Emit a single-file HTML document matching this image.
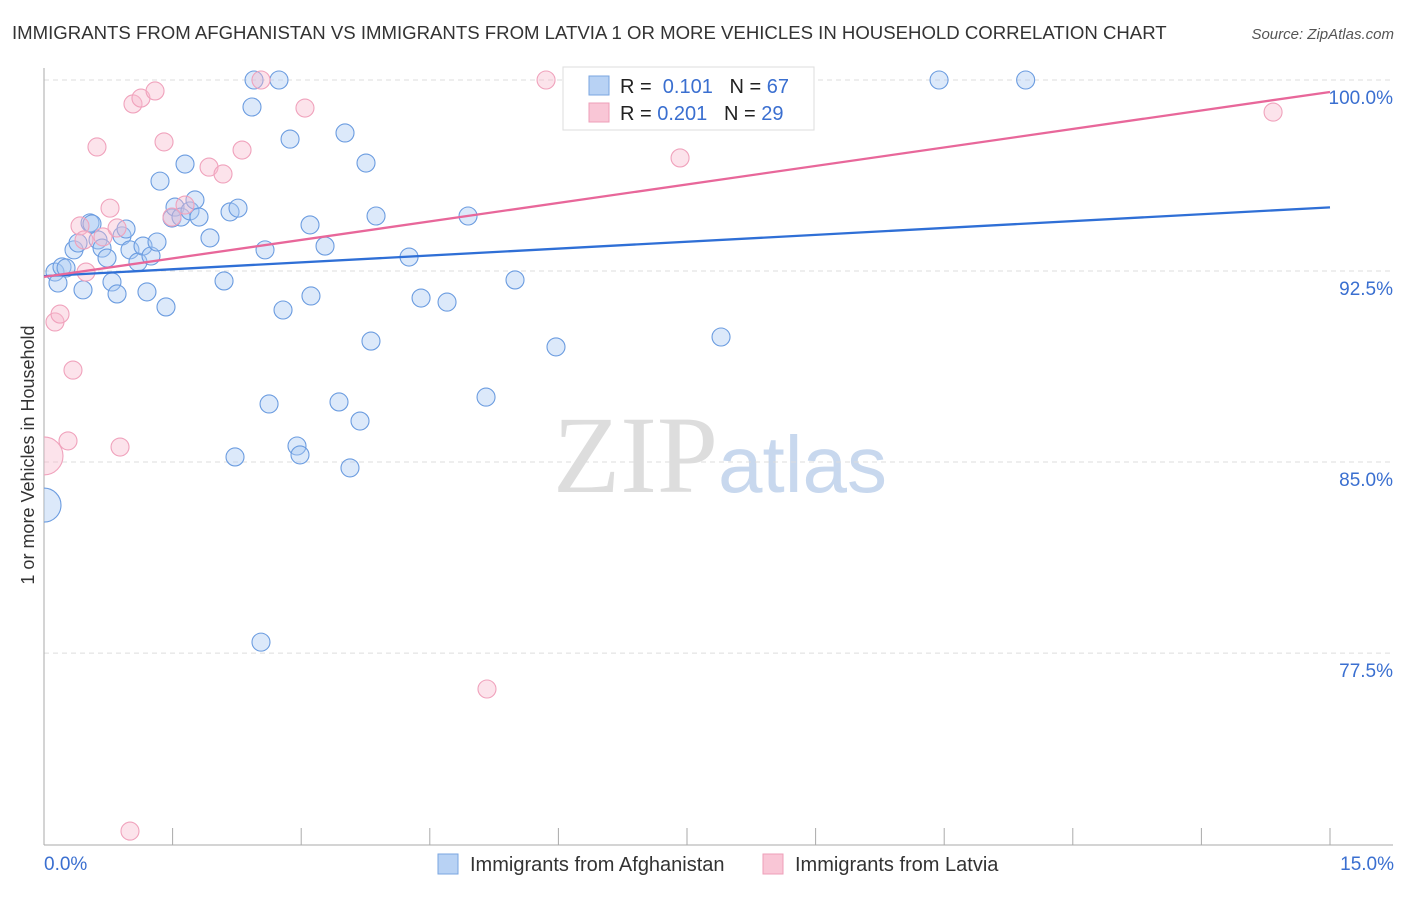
<!DOCTYPE html>
<html><head><meta charset="utf-8"><style>
body{margin:0;background:#fff;font-family:"Liberation Sans",sans-serif}
</style></head><body>
<svg id="chart" width="1406" height="892" xmlns="http://www.w3.org/2000/svg">
<defs><clipPath id="plotclip"><rect x="44" y="40" width="1360" height="805"/></clipPath></defs>
<text x="12" y="39" font-size="18.6" fill="#333">IMMIGRANTS FROM AFGHANISTAN VS IMMIGRANTS FROM LATVIA 1 OR MORE VEHICLES IN HOUSEHOLD CORRELATION CHART</text>
<text x="1394" y="39" font-size="15" fill="#555" font-style="italic" text-anchor="end">Source: ZipAtlas.com</text>
<text x="553" y="492" font-size="110" fill="#ddd" font-family="Liberation Serif,serif">ZIP</text>
<text x="718" y="492" font-size="80" fill="#c8d8ee">atlas</text>
<text transform="translate(34,455) rotate(-90)" font-size="18" fill="#333" text-anchor="middle">1 or more Vehicles in Household</text>
<g id="grid"></g><g id="axes"></g><g id="marks" clip-path="url(#plotclip)"></g><g id="lines"></g>
<g>
<rect x="563" y="67" width="251" height="63" fill="#fff" stroke="#ddd"/>
<rect x="589" y="76" width="20" height="19" fill="#b8d2f4" stroke="#7aa6e0"/>
<rect x="589" y="103" width="20" height="19" fill="#f9c6d6" stroke="#ee9fb8"/>
<text x="620" y="93" font-size="20" fill="#222">R = <tspan fill="#3a6fd0">&#160;0.101</tspan>&#160;&#160;&#160;N = <tspan fill="#3a6fd0">67</tspan></text>
<text x="620" y="120" font-size="20" fill="#222">R = <tspan fill="#3a6fd0">0.201</tspan>&#160;&#160;&#160;N = <tspan fill="#3a6fd0">29</tspan></text>
</g>
<g>
<rect x="438" y="854" width="20" height="20" fill="#b8d2f4" stroke="#7aa6e0"/>
<text x="470" y="871" font-size="20" fill="#333">Immigrants from Afghanistan</text>
<rect x="763" y="854" width="20" height="20" fill="#f9c6d6" stroke="#ee9fb8"/>
<text x="795" y="871" font-size="20" fill="#333">Immigrants from Latvia</text>
</g>
</svg>
<script>
const yTicks=[100,92.5,85,77.5];
const yTickLabels=["100.0%","92.5%","85.0%","77.5%"];
const xTickLabels=["0.0%","15.0%"];
const afgX=[0.128,0.163,0.21,0.257,0.35,0.397,0.455,0.537,0.56,0.63,0.677,0.735,0.793,0.852,0.91,0.957,1.003,1.096,1.155,1.201,1.248,1.318,1.353,1.423,1.493,1.528,1.598,1.645,1.703,1.761,1.808,1.936,2.10,2.17,2.228,2.263,2.45,2.426,2.531,2.578,2.625,2.741,2.788,2.87,2.951,2.986,3.114,3.103,3.278,3.441,3.511,3.569,3.686,3.756,3.814,3.873,4.258,4.398,4.701,4.946,5.156,5.494,5.972,7.897,10.44,11.45,0];
const afgY=[92.46,92.03,92.66,92.62,93.33,93.6,91.76,94.39,94.35,93.72,93.4,93.01,92.07,91.6,93.88,94.15,93.33,92.85,93.48,91.68,93.09,93.64,96.03,91.09,94.58,95.01,94.62,96.7,94.86,95.29,94.62,93.8,92.11,94.82,85.2,94.97,100,98.94,77.93,93.33,87.28,100,90.97,97.68,85.63,85.28,91.52,94.31,93.48,87.36,97.92,84.77,86.61,96.74,89.75,94.66,93.05,91.44,91.28,94.66,87.55,92.15,89.52,89.91,100,100,83.31];
const afgBig=[66];
const latX=[0,0.49,0.128,0.187,0.28,0.338,0.42,0.467,0.618,0.688,0.77,0.852,0.887,1.003,1.038,1.131,1.295,1.40,1.493,1.645,1.925,2.088,2.31,2.531,3.044,5.167,5.856,7.419,14.336];
const latY=[85.24,92.46,90.5,90.81,85.83,88.61,94.27,93.72,97.37,93.84,94.97,94.19,85.59,70.51,99.06,99.29,99.57,97.57,94.62,95.09,96.58,96.31,97.25,100,98.9,76.09,100,96.94,98.74];
const latBig=[0];
const afgTrend=[92.3,95.0];
const latTrend=[92.27,99.53];
const NS="http://www.w3.org/2000/svg";
const X=v=>44+v*(1286/15);
const Y=v=>80+(100-v)*25.47;
function mk(parent,tag,attrs){const e=document.createElementNS(NS,tag);for(const k in attrs)e.setAttribute(k,attrs[k]);document.getElementById(parent).appendChild(e);return e;}
yTicks.forEach((t,i)=>{
 const g=mk('grid','line',{x1:44,x2:1393,y1:Y(t),y2:Y(t),stroke:'#ddd','stroke-dasharray':'5,4'});
 
 
 const l=mk('axes','text',{x:1393,y:Y(t)+24,'font-size':19,fill:'#3a6fd0','text-anchor':'end'});
 l.textContent=yTickLabels[i];
 
 
});
const ya=mk('axes','line',{x1:44,x2:44,y1:68,y2:845,stroke:'#aaa'});


const xa=mk('axes','line',{x1:44,x2:1393,y1:845,y2:845,stroke:'#aaa'});


for(let i=0;i<=10;i++){
 const t=mk('axes','line',{x1:X(i*1.5),x2:X(i*1.5),y1:828,y2:845,stroke:'#aaa'});
 
 
}
const xl0=mk('axes','text',{x:44,y:870,'font-size':19,fill:'#3a6fd0'});
xl0.textContent=xTickLabels[0];


const xl1=mk('axes','text',{x:1394,y:870,'font-size':19,fill:'#3a6fd0','text-anchor':'end'});
xl1.textContent=xTickLabels[1];


afgX.forEach((v,i)=>{
 const c=mk('marks','circle',{cx:X(v),cy:Y(afgY[i]),r:afgBig.includes(i)?17:9,fill:'rgba(168,200,242,0.4)',stroke:'#6b9ce0','stroke-width':1.1});
 
 
});
latX.forEach((v,i)=>{
 const c=mk('marks','circle',{cx:X(v),cy:Y(latY[i]),r:latBig.includes(i)?19:9,fill:'rgba(248,186,206,0.4)',stroke:'#f0a2bc','stroke-width':1.1});
 
 
});
const la=mk('lines','line',{x1:X(0),x2:X(15),y1:Y(afgTrend[0]),y2:Y(afgTrend[1]),stroke:'#2f6fd6','stroke-width':2.3});


const lb=mk('lines','line',{x1:X(0),x2:X(15),y1:Y(latTrend[0]),y2:Y(latTrend[1]),stroke:'#e8679a','stroke-width':2.3});


</script>
</body></html>
